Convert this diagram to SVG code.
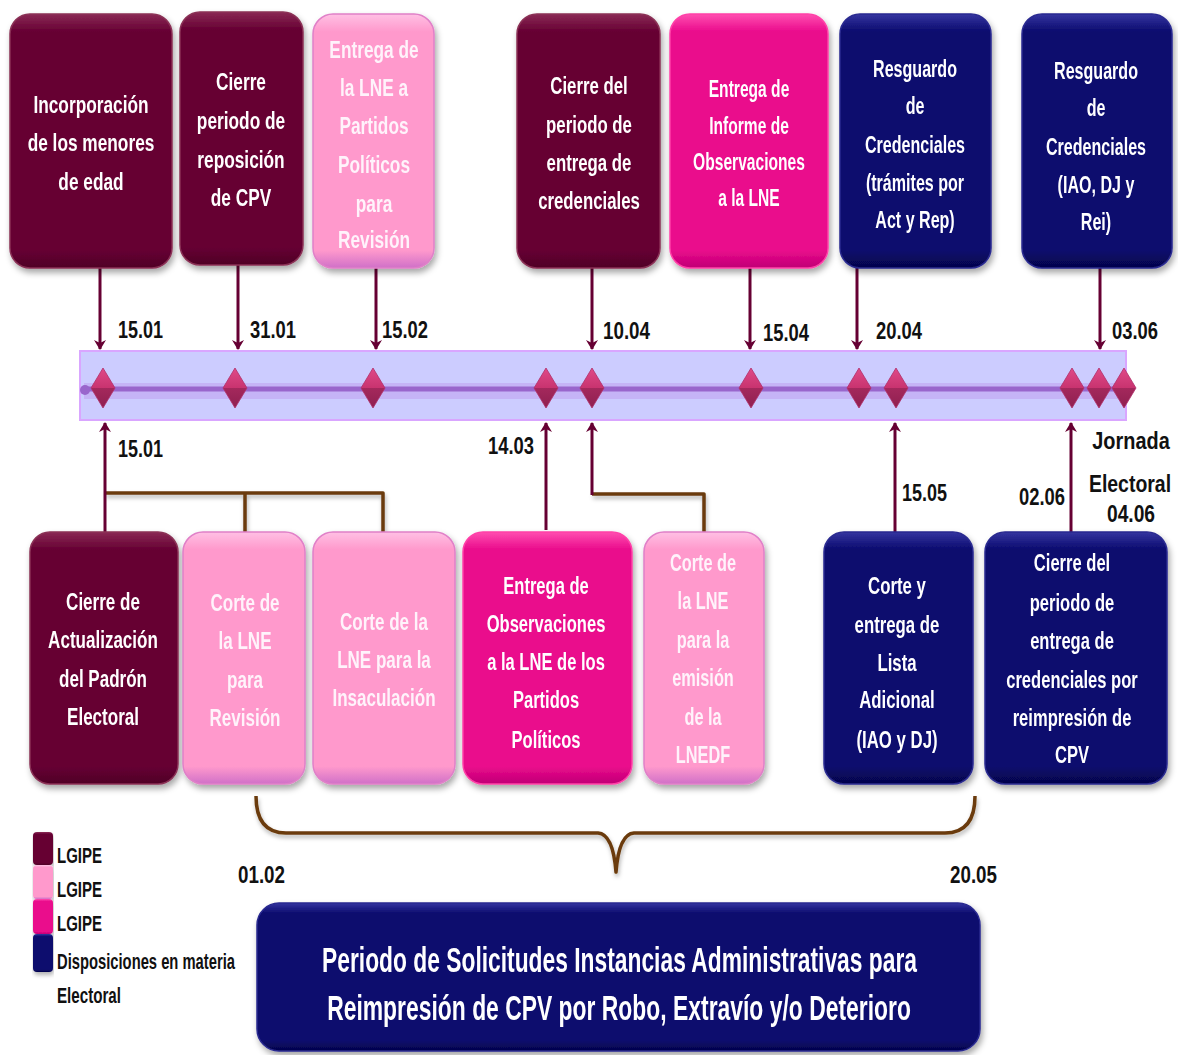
<svg xmlns="http://www.w3.org/2000/svg" width="1178" height="1055" viewBox="0 0 1178 1055">
<defs>
<style>
.bt{font-family:'Liberation Sans',Arial,sans-serif;font-weight:bold;font-size:24px;fill:#ffffff;text-anchor:middle}
.lp .bt{fill:#fff3fb}
.dt{font-family:'Liberation Sans',Arial,sans-serif;font-weight:bold;font-size:24px;fill:#111111}
.dtm{font-family:'Liberation Sans',Arial,sans-serif;font-weight:bold;font-size:24px;fill:#111111;text-anchor:middle}
.big{font-family:'Liberation Sans',Arial,sans-serif;font-weight:bold;font-size:36px;fill:#ffffff;text-anchor:middle}
.lg{font-family:'Liberation Sans',Arial,sans-serif;font-weight:bold;font-size:22px;fill:#111111}
.arr{stroke:#660033;stroke-width:3;fill:none}
.brk{stroke:#6b3a0a;stroke-width:3.5;fill:none;stroke-linejoin:round}
.dia{fill:url(#gDia);stroke:#b0306a;stroke-width:0.8}
</style>
<linearGradient id="gM" x1="0" y1="0" x2="0" y2="1"><stop offset="0" stop-color="#8a2a55"/><stop offset="0.07" stop-color="#660033"/><stop offset="0.93" stop-color="#660033"/><stop offset="1" stop-color="#4f0026"/></linearGradient>
<linearGradient id="gL" x1="0" y1="0" x2="0" y2="1"><stop offset="0" stop-color="#ffc0e4"/><stop offset="0.07" stop-color="#ff99cc"/><stop offset="0.93" stop-color="#ff99cc"/><stop offset="1" stop-color="#d070c8"/></linearGradient>
<linearGradient id="gP" x1="0" y1="0" x2="0" y2="1"><stop offset="0" stop-color="#ff4fb0"/><stop offset="0.07" stop-color="#ea0a8c"/><stop offset="0.93" stop-color="#ea0a8c"/><stop offset="1" stop-color="#c00075"/></linearGradient>
<linearGradient id="gN" x1="0" y1="0" x2="0" y2="1"><stop offset="0" stop-color="#3535a0"/><stop offset="0.07" stop-color="#0a0a6e"/><stop offset="0.93" stop-color="#0a0a6e"/><stop offset="1" stop-color="#05054a"/></linearGradient>
<linearGradient id="gDia" x1="0" y1="0" x2="0" y2="1"><stop offset="0" stop-color="#e04a88"/><stop offset="0.5" stop-color="#c8336f"/><stop offset="0.5" stop-color="#a4285c"/><stop offset="1" stop-color="#8f2050"/></linearGradient>
<filter id="sh" x="-10%" y="-10%" width="125%" height="125%"><feDropShadow dx="2" dy="4" stdDeviation="3" flood-color="#000000" flood-opacity="0.35"/></filter>
<filter id="sh2" x="-5%" y="-20%" width="110%" height="160%"><feDropShadow dx="1" dy="3" stdDeviation="2" flood-color="#000000" flood-opacity="0.3"/></filter>
<marker id="ah" viewBox="0 0 10 12" refX="9" refY="6" markerWidth="10" markerHeight="12" markerUnits="userSpaceOnUse" orient="auto"><path d="M0,0 L10,6 L0,12 L3,6 Z" fill="#660033"/></marker>
</defs>
<rect width="1178" height="1055" fill="#ffffff"/>

<!-- timeline band -->
<g id="timeline">
<rect x="80" y="351" width="1046" height="69" fill="#ccccff" stroke="#d9a6ff" stroke-width="2"/>
<rect x="84" y="383" width="1040" height="16" fill="#c0a4f0" opacity="0.6"/>
<line x1="84" y1="389" x2="1124" y2="389" stroke="#9966cc" stroke-width="5"/>
<circle cx="85" cy="390" r="5" fill="#9966cc"/>
<g>
<path class="dia" d="M103,368 L115,388 L103,408 L91,388 Z"/>
<path class="dia" d="M235,368 L247,388 L235,408 L223,388 Z"/>
<path class="dia" d="M373,368 L385,388 L373,408 L361,388 Z"/>
<path class="dia" d="M546,368 L558,388 L546,408 L534,388 Z"/>
<path class="dia" d="M592,368 L604,388 L592,408 L580,388 Z"/>
<path class="dia" d="M751,368 L763,388 L751,408 L739,388 Z"/>
<path class="dia" d="M859,368 L871,388 L859,408 L847,388 Z"/>
<path class="dia" d="M896,368 L908,388 L896,408 L884,388 Z"/>
<path class="dia" d="M1072,368 L1084,388 L1072,408 L1060,388 Z"/>
<path class="dia" d="M1099,368 L1111,388 L1099,408 L1087,388 Z"/>
<path class="dia" d="M1124,368 L1136,388 L1124,408 L1112,388 Z"/>
</g>
</g>

<!-- connectors -->
<g id="connectors">
<line class="arr" x1="100" y1="268" x2="100" y2="349" marker-end="url(#ah)"/>
<line class="arr" x1="238" y1="265" x2="238" y2="349" marker-end="url(#ah)"/>
<line class="arr" x1="376" y1="268" x2="376" y2="349" marker-end="url(#ah)"/>
<line class="arr" x1="592" y1="268" x2="592" y2="349" marker-end="url(#ah)"/>
<line class="arr" x1="750" y1="268" x2="750" y2="349" marker-end="url(#ah)"/>
<line class="arr" x1="857" y1="268" x2="857" y2="349" marker-end="url(#ah)"/>
<line class="arr" x1="1100" y1="268" x2="1100" y2="349" marker-end="url(#ah)"/>

<g filter="url(#sh2)">
<polyline class="brk" points="105,493 383,493 383,532"/>
<line class="brk" x1="245" y1="493" x2="245" y2="532"/>
<polyline class="brk" points="592,494 704,494 704,532"/>
<path class="brk" d="M256,796 Q256,833 286,833 L598,833 Q613,834 616,872 Q619,834 634,833 L945,833 Q975,833 975,796"/>
</g>

<line class="arr" x1="105" y1="532" x2="105" y2="423" marker-end="url(#ah)"/>
<line class="arr" x1="546" y1="530" x2="546" y2="423" marker-end="url(#ah)"/>
<line class="arr" x1="592" y1="495" x2="592" y2="423" marker-end="url(#ah)"/>
<line class="arr" x1="895" y1="532" x2="895" y2="423" marker-end="url(#ah)"/>
<line class="arr" x1="1071" y1="532" x2="1071" y2="423" marker-end="url(#ah)"/>
</g>

<!-- dates -->
<g id="dates">
<text class="dt" x="118" y="338" textLength="45" lengthAdjust="spacingAndGlyphs">15.01</text>
<text class="dt" x="250" y="338" textLength="46" lengthAdjust="spacingAndGlyphs">31.01</text>
<text class="dt" x="382" y="338" textLength="46" lengthAdjust="spacingAndGlyphs">15.02</text>
<text class="dt" x="603" y="339" textLength="47" lengthAdjust="spacingAndGlyphs">10.04</text>
<text class="dt" x="763" y="341" textLength="46" lengthAdjust="spacingAndGlyphs">15.04</text>
<text class="dt" x="876" y="339" textLength="46" lengthAdjust="spacingAndGlyphs">20.04</text>
<text class="dt" x="1112" y="339" textLength="46" lengthAdjust="spacingAndGlyphs">03.06</text>
<text class="dt" x="118" y="457" textLength="45" lengthAdjust="spacingAndGlyphs">15.01</text>
<text class="dt" x="488" y="454" textLength="46" lengthAdjust="spacingAndGlyphs">14.03</text>
<text class="dt" x="902" y="501" textLength="45" lengthAdjust="spacingAndGlyphs">15.05</text>
<text class="dt" x="1019" y="505" textLength="46" lengthAdjust="spacingAndGlyphs">02.06</text>
<g transform="translate(1131,0) scale(0.83,1)"><text class="dtm" x="0" y="449">Jornada</text></g>
<g transform="translate(1130,0) scale(0.81,1)"><text class="dtm" x="0" y="492">Electoral</text></g>
<g transform="translate(1131,0) scale(0.8,1)"><text class="dtm" x="0" y="522">04.06</text></g>
<text class="dt" x="238" y="883" textLength="47" lengthAdjust="spacingAndGlyphs">01.02</text>
<text class="dt" x="950" y="883" textLength="47" lengthAdjust="spacingAndGlyphs">20.05</text>
</g>

<!-- top nodes -->
<g id="t1" filter="url(#sh)">
<rect x="10" y="14" width="162" height="254" rx="20" fill="url(#gM)" stroke="#8a3055" stroke-width="1.5"/>
<g transform="translate(91,0) scale(0.72,1)"><text class="bt" x="0" y="113">Incorporación</text><text class="bt" x="0" y="151">de los menores</text><text class="bt" x="0" y="190">de edad</text></g>
</g>
<g id="t2" filter="url(#sh)">
<rect x="180" y="12" width="123" height="253" rx="20" fill="url(#gM)" stroke="#8a3055" stroke-width="1.5"/>
<g transform="translate(241,0) scale(0.72,1)"><text class="bt" x="0" y="90">Cierre</text><text class="bt" x="0" y="129">periodo de</text><text class="bt" x="0" y="168">reposición</text><text class="bt" x="0" y="206">de CPV</text></g>
</g>
<g id="t3" class="lp" filter="url(#sh)">
<rect x="313" y="14" width="121" height="254" rx="20" fill="url(#gL)" stroke="#e080c8" stroke-width="1.5"/>
<g transform="translate(374,0) scale(0.72,1)"><text class="bt" x="0" y="58">Entrega de</text><text class="bt" x="0" y="96">la LNE a</text><text class="bt" x="0" y="134">Partidos</text><text class="bt" x="0" y="173">Políticos</text><text class="bt" x="0" y="212">para</text><text class="bt" x="0" y="248">Revisión</text></g>
</g>
<g id="t4" filter="url(#sh)">
<rect x="517" y="14" width="143" height="254" rx="20" fill="url(#gM)" stroke="#8a3055" stroke-width="1.5"/>
<g transform="translate(589,0) scale(0.7,1)"><text class="bt" x="0" y="94">Cierre del</text><text class="bt" x="0" y="133">periodo de</text><text class="bt" x="0" y="171">entrega de</text><text class="bt" x="0" y="209">credenciales</text></g>
</g>
<g id="t5" filter="url(#sh)">
<rect x="670" y="14" width="158" height="254" rx="20" fill="url(#gP)" stroke="#ff40a8" stroke-width="1.5"/>
<g transform="translate(749,0) scale(0.65,1)"><text class="bt" x="0" y="97">Entrega de</text><text class="bt" x="0" y="134">Informe de</text><text class="bt" x="0" y="170">Observaciones</text><text class="bt" x="0" y="206">a la LNE</text></g>
</g>
<g id="t6" filter="url(#sh)">
<rect x="840" y="14" width="151" height="254" rx="20" fill="url(#gN)" stroke="#2a2a90" stroke-width="1.5"/>
<g transform="translate(915,0) scale(0.67,1)"><text class="bt" x="0" y="77">Resguardo</text><text class="bt" x="0" y="114">de</text><text class="bt" x="0" y="153">Credenciales</text><text class="bt" x="0" y="191">(trámites por</text><text class="bt" x="0" y="228">Act y Rep)</text></g>
</g>
<g id="t7" filter="url(#sh)">
<rect x="1022" y="14" width="150" height="254" rx="20" fill="url(#gN)" stroke="#2a2a90" stroke-width="1.5"/>
<g transform="translate(1096,0) scale(0.67,1)"><text class="bt" x="0" y="79">Resguardo</text><text class="bt" x="0" y="116">de</text><text class="bt" x="0" y="155">Credenciales</text><text class="bt" x="0" y="193">(IAO, DJ y</text><text class="bt" x="0" y="230">Rei)</text></g>
</g>

<!-- bottom nodes -->
<g id="b1" filter="url(#sh)">
<rect x="30" y="532" width="148" height="252" rx="20" fill="url(#gM)" stroke="#8a3055" stroke-width="1.5"/>
<g transform="translate(103,0) scale(0.71,1)"><text class="bt" x="0" y="610">Cierre de</text><text class="bt" x="0" y="648">Actualización</text><text class="bt" x="0" y="687">del Padrón</text><text class="bt" x="0" y="725">Electoral</text></g>
</g>
<g id="b2" class="lp" filter="url(#sh)">
<rect x="183" y="532" width="122" height="252" rx="20" fill="url(#gL)" stroke="#e080c8" stroke-width="1.5"/>
<g transform="translate(245,0) scale(0.71,1)"><text class="bt" x="0" y="611">Corte de</text><text class="bt" x="0" y="649">la LNE</text><text class="bt" x="0" y="688">para</text><text class="bt" x="0" y="726">Revisión</text></g>
</g>
<g id="b3" class="lp" filter="url(#sh)">
<rect x="313" y="532" width="142" height="252" rx="20" fill="url(#gL)" stroke="#e080c8" stroke-width="1.5"/>
<g transform="translate(384,0) scale(0.71,1)"><text class="bt" x="0" y="630">Corte de la</text><text class="bt" x="0" y="668">LNE para la</text><text class="bt" x="0" y="706">Insaculación</text></g>
</g>
<g id="b4" filter="url(#sh)">
<rect x="463" y="532" width="169" height="252" rx="20" fill="url(#gP)" stroke="#ff40a8" stroke-width="1.5"/>
<g transform="translate(546,0) scale(0.69,1)"><text class="bt" x="0" y="594">Entrega de</text><text class="bt" x="0" y="632">Observaciones</text><text class="bt" x="0" y="670">a la LNE de los</text><text class="bt" x="0" y="708">Partidos</text><text class="bt" x="0" y="748">Políticos</text></g>
</g>
<g id="b5" class="lp" filter="url(#sh)">
<rect x="644" y="532" width="120" height="252" rx="20" fill="url(#gL)" stroke="#e080c8" stroke-width="1.5"/>
<g transform="translate(703,0) scale(0.68,1)"><text class="bt" x="0" y="571">Corte de</text><text class="bt" x="0" y="609">la LNE</text><text class="bt" x="0" y="648">para la</text><text class="bt" x="0" y="686">emisión</text><text class="bt" x="0" y="725">de la</text><text class="bt" x="0" y="763">LNEDF</text></g>
</g>
<g id="b6" filter="url(#sh)">
<rect x="824" y="532" width="149" height="252" rx="20" fill="url(#gN)" stroke="#2a2a90" stroke-width="1.5"/>
<g transform="translate(897,0) scale(0.7,1)"><text class="bt" x="0" y="594">Corte y</text><text class="bt" x="0" y="633">entrega de</text><text class="bt" x="0" y="671">Lista</text><text class="bt" x="0" y="708">Adicional</text><text class="bt" x="0" y="748">(IAO y DJ)</text></g>
</g>
<g id="b7" filter="url(#sh)">
<rect x="985" y="532" width="182" height="252" rx="20" fill="url(#gN)" stroke="#2a2a90" stroke-width="1.5"/>
<g transform="translate(1072,0) scale(0.69,1)"><text class="bt" x="0" y="571">Cierre del</text><text class="bt" x="0" y="611">periodo de</text><text class="bt" x="0" y="649">entrega de</text><text class="bt" x="0" y="688">credenciales por</text><text class="bt" x="0" y="726">reimpresión de</text><text class="bt" x="0" y="763">CPV</text></g>
</g>

<!-- big bottom node -->
<g id="periodo" filter="url(#sh)">
<rect x="257" y="903" width="723" height="148" rx="22" fill="url(#gN)" stroke="#2a2a90" stroke-width="1.5"/>
<g transform="translate(619.5,0) scale(0.634,1)"><text class="big" x="0" y="972">Periodo de Solicitudes Instancias Administrativas para</text></g>
<g transform="translate(619,0) scale(0.636,1)"><text class="big" x="0" y="1020">Reimpresión de CPV por Robo, Extravío y/o Deterioro</text></g>
</g>

<!-- legend -->
<g id="legend">
<g filter="url(#sh2)">
<rect x="33" y="832" width="20" height="33" rx="4" fill="url(#gM)"/>
<rect x="33" y="865" width="20" height="34" rx="4" fill="url(#gL)"/>
<rect x="33" y="899" width="20" height="35" rx="4" fill="url(#gP)"/>
<rect x="33" y="934" width="20" height="38" rx="4" fill="url(#gN)"/>
</g>
<text class="lg" x="57" y="863" textLength="45" lengthAdjust="spacingAndGlyphs">LGIPE</text>
<text class="lg" x="57" y="897" textLength="45" lengthAdjust="spacingAndGlyphs">LGIPE</text>
<text class="lg" x="57" y="931" textLength="45" lengthAdjust="spacingAndGlyphs">LGIPE</text>
<text class="lg" x="57" y="969" textLength="178" lengthAdjust="spacingAndGlyphs">Disposiciones en materia</text>
<text class="lg" x="57" y="1003" textLength="64" lengthAdjust="spacingAndGlyphs">Electoral</text>
</g>
</svg>
